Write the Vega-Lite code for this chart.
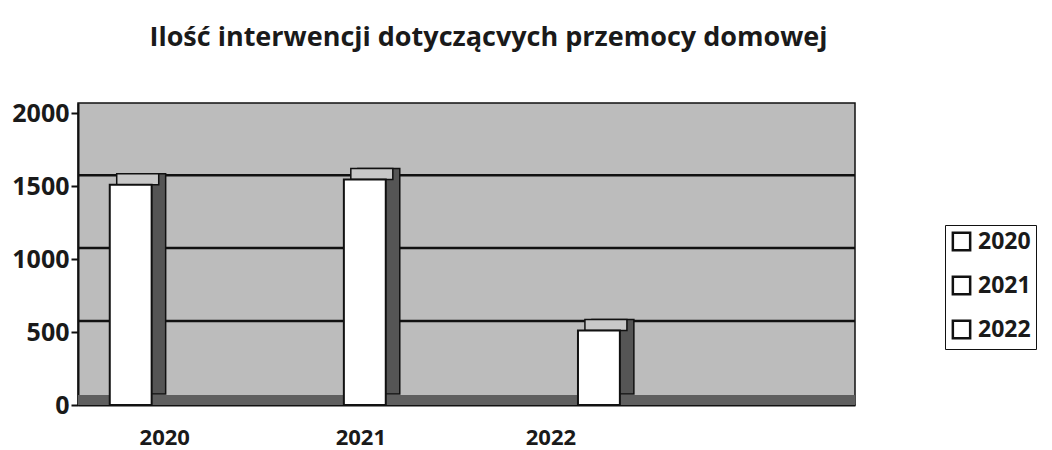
{
  "$schema": "https://vega.github.io/schema/vega-lite/v6.json",
  "autosize": "none",
  "padding": {"left": 78, "top": 103, "right": 197, "bottom": 45},
  "width": 777,
  "height": 302,
  "background": "white",
  "title": {
    "text": "Ilość interwencji dotyczącvych przemocy domowej",
    "font": "Open Sans",
    "fontSize": 27,
    "fontWeight": "bold",
    "color": "#1a1a1a",
    "anchor": "middle",
    "offset": 49,
    "dx": 22
  },
  "config": {
    "view": {"fill": "#bcbcbc", "stroke": "#111", "strokeWidth": 1.5},
    "axisY": {
      "grid": false,
      "domainColor": "#111",
      "domainWidth": 2,
      "tickColor": "#111",
      "tickWidth": 2,
      "tickSize": 7,
      "labelFont": "Open Sans",
      "labelFontSize": 25,
      "labelFontWeight": "bold",
      "labelColor": "#1a1a1a",
      "labelPadding": 2
    },
    "axisX": {
      "grid": false,
      "domainColor": "#111",
      "domainWidth": 2,
      "ticks": false,
      "labelAngle": 0,
      "labelFont": "Open Sans",
      "labelFontSize": 22,
      "labelFontWeight": "bold",
      "labelColor": "#1a1a1a",
      "labelPadding": 22
    },
    "legend": {
      "labelFont": "Open Sans",
      "labelFontSize": 23,
      "labelFontWeight": "bold",
      "labelColor": "#1a1a1a"
    }
  },
  "data": {
    "values": [
      {"year": "2020", "value": 1510},
      {"year": "2021", "value": 1545},
      {"year": "2022", "value": 510}
    ]
  },
  "layer": [
    {
      "data": {"values": [{"g": 500}, {"g": 1000}, {"g": 1500}]},
      "mark": {"type": "rule", "color": "#111", "strokeWidth": 2.5, "yOffset": -11},
      "encoding": {
        "y": {"field": "g", "type": "quantitative", "title": null,
          "scale": {"domain": [0, 2070], "nice": false, "zero": true},
          "axis": {"values": [0, 500, 1000, 1500, 2000], "format": "d"}}
      }
    },
    {
      "data": {"values": [{"g": 0}]},
      "mark": {"type": "rule", "color": "#5f5f5f", "strokeWidth": 10, "yOffset": -5},
      "encoding": {
        "y": {"field": "g", "type": "quantitative", "title": null}
      }
    },
    {
      "mark": {"type": "bar", "color": "#555555", "stroke": "#111", "strokeWidth": 1.5, "xOffset": 14, "yOffset": -11},
      "encoding": {
        "x": {"field": "year", "type": "nominal", "title": null,
          "scale": {"domain": ["2020", "2021", "2022"], "paddingInner": 0.821, "paddingOuter": 0.57, "align": 0.119}},
        "y": {"field": "value", "type": "quantitative", "title": null}
      }
    },
    {
      "mark": {"type": "tick", "orient": "horizontal", "color": "#c8c8c8", "stroke": "#111", "strokeWidth": 1.5, "size": 42, "thickness": 11, "xOffset": 7, "yOffset": -5.5, "opacity": 1},
      "encoding": {
        "x": {"field": "year", "type": "nominal", "title": null},
        "y": {"field": "value", "type": "quantitative", "title": null}
      }
    },
    {
      "mark": {"type": "bar", "stroke": "#111", "strokeWidth": 2},
      "encoding": {
        "x": {"field": "year", "type": "nominal", "title": null,
          "axis": {"labelOffset": {"condition": [{"test": "datum.value === '2020'", "value": 34}, {"test": "datum.value === '2022'", "value": -48}], "value": -4}}},
        "y": {"field": "value", "type": "quantitative", "title": null},
        "color": {
          "field": "year", "type": "nominal", "title": null,
          "scale": {"domain": ["2020", "2021", "2022"], "range": ["#ffffff", "#ffffff", "#ffffff"]},
          "legend": {
            "orient": "none",
            "legendX": 867,
            "legendY": 122,
            "symbolType": "square",
            "symbolSize": 300,
            "symbolStrokeColor": "#111",
            "symbolStrokeWidth": 2.5,
            "symbolFillColor": "#ffffff",
            "strokeColor": "#111",
            "fillColor": "#ffffff",
            "padding": 5,
            "rowPadding": 15,
            "labelOffset": 5
          }
        }
      }
    }
  ]
}
